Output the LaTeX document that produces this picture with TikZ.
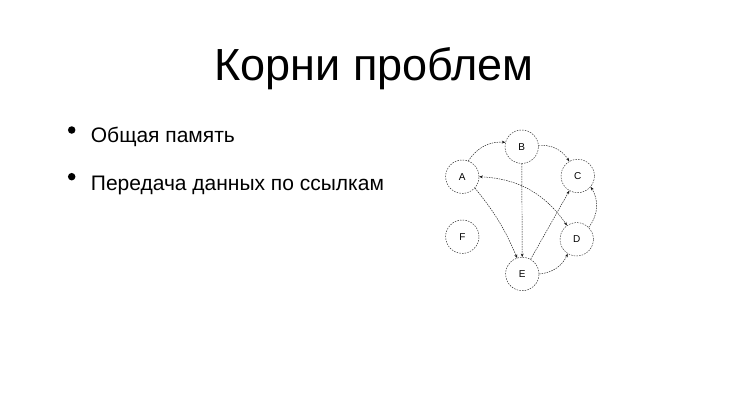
\documentclass[tikz,border=0pt]{standalone}
\usepackage{fontspec}
\setmainfont{Liberation Sans}
\usetikzlibrary{arrows.meta}
\begin{document}
\begin{tikzpicture}[x=1pt,y=-1pt,
  gnode/.style={circle,draw=black!85,line width=0.45pt,dash pattern=on 1.5pt off 1.2pt,minimum size=33.4pt,inner sep=0pt,font=\fontsize{10}{10}\selectfont},
  gedge/.style={draw=black!90,line width=0.45pt,dash pattern=on 1.5pt off 1pt,-{Stealth[length=3.5pt,width=2.8pt]}},
  bulletdot/.style={circle,fill=black,inner sep=0pt,minimum size=7.5pt},
  titletext/.style={anchor=base,inner sep=0pt,font=\fontsize{45}{45}\selectfont},
  itemtext/.style={anchor=base west,inner sep=0pt,font=\fontsize{21}{21}\selectfont}]
\useasboundingbox[fill=white] (0,0) rectangle (747,420);
\node[titletext] (title) at (374,80.7) {Корни проблем};
\node[bulletdot] (b1) at (71.7,130) {};
\node[bulletdot] (b2) at (71.7,176.7) {};
\node[itemtext] (t1) at (90.7,142.3) {Общая память};
\node[itemtext] (t2) at (90.7,190) {Передача данных по ссылкам};
\node[gnode] (A) at (462.3,176.7) {A};
\node[gnode] (B) at (521.7,146.7) {B};
\node[gnode] (C) at (577.7,176) {C};
\node[gnode] (D) at (576.7,239.3) {D};
\node[gnode] (E) at (522.3,274) {E};
\node[gnode] (F) at (462.3,236.7) {F};
\draw[gedge] (A.69) to[bend left=30] (B.165);
\draw[gedge] (B.5) to[bend left=30] (C.120);
\draw[gedge] (B) -- (E);
\draw[gedge] (A.-42) to[bend left=8] (E.108);
\draw[gedge,{Stealth[length=3.5pt,width=2.8pt]}-{Stealth[length=3.5pt,width=2.8pt]}] (A.0) to[bend left=26] (D.125);
\draw[gedge] (E) -- (C);
\draw[gedge] (D.45) to[bend right=35] (C.-40);
\draw[gedge] (E.0) to[bend right=30] (D.238);
\end{tikzpicture}
\end{document}
